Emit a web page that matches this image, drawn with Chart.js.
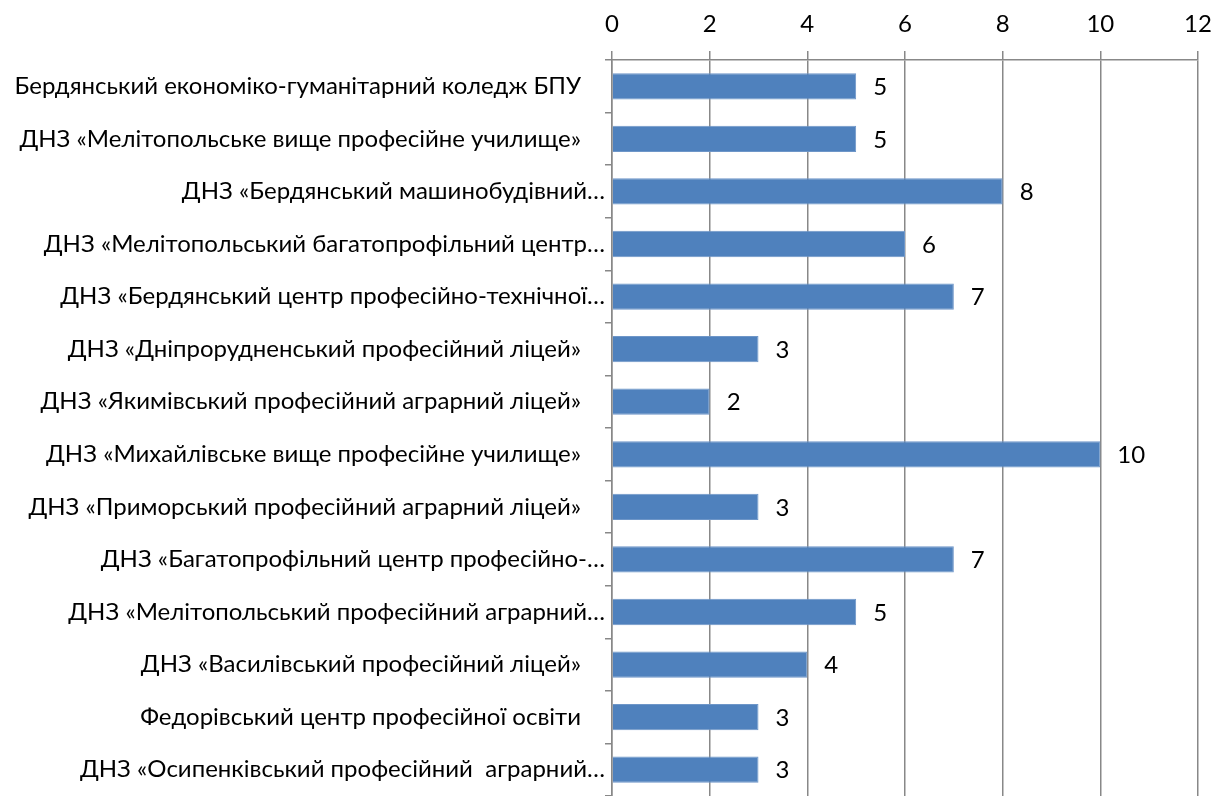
<!DOCTYPE html>
<html>
<head>
<meta charset="utf-8">
<script src="https://cdn.jsdelivr.net/npm/chart.js@4"></script>
<style>
  html, body { margin: 0; padding: 0; background: #fff; }
  #wrap { width: 1220px; height: 796px; }
</style>
</head>
<body>
<div id="wrap"><canvas id="chart"></canvas></div>
<script>
// Назви закладів (підписи категорій)
const schools = [
  'Бердянський економіко-гуманітарний коледж БПУ\u2002\u2002',
  'ДНЗ «Мелітопольське вище професійне училище»\u2002\u2002',
  'ДНЗ «Бердянський машинобудівний…',
  'ДНЗ «Мелітопольський багатопрофільний центр…',
  'ДНЗ «Бердянський центр професійно-технічної…',
  'ДНЗ «Дніпрорудненський професійний ліцей»\u2002\u2002',
  'ДНЗ «Якимівський професійний аграрний ліцей»\u2002\u2002',
  'ДНЗ «Михайлівське вище професійне училище»\u2002\u2002',
  'ДНЗ «Приморський професійний аграрний ліцей»\u2002\u2002',
  'ДНЗ «Багатопрофільний центр професійно-…',
  'ДНЗ «Мелітопольський професійний аграрний…',
  'ДНЗ «Василівський професійний ліцей»\u2002\u2002',
  'Федорівський центр професійної освіти\u2002\u2002',
  'ДНЗ «Осипенківський професійний  аграрний…'
];

// Значення
const counts = [5, 5, 8, 6, 7, 3, 2, 10, 3, 7, 5, 4, 3, 3];

// Шкала
const axisMin = 0;
const axisMax = 12;
const axisStep = 2;

const fontFamily = 'Lato, "Open Sans", sans-serif';
const fontSize = 24;

// Підписи значень біля кінця стовпчика
const valueLabels = {
  id: 'valueLabels',
  afterDatasetsDraw(chart) {
    const ctx = chart.ctx;
    const meta = chart.getDatasetMeta(0);
    ctx.save();
    ctx.font = fontSize + 'px ' + fontFamily;
    ctx.fillStyle = '#000';
    ctx.textAlign = 'left';
    ctx.textBaseline = 'middle';
    meta.data.forEach(function(bar, i) {
      ctx.fillText(String(counts[i]), bar.x + 17, bar.y + 1);
    });
    ctx.restore();
  }
};

const ctx = document.getElementById('chart').getContext('2d');
const chart = new Chart(ctx, {
  type: 'bar',
  data: {
    labels: schools,
    datasets: [{
      data: counts,
      backgroundColor: '#4F81BD',
      borderColor: '#6E96C8',
      borderWidth: 1,
      barPercentage: 0.5,
      categoryPercentage: 1.0
    }]
  },
  options: {
    indexAxis: 'y',
    responsive: true,
    maintainAspectRatio: false,
    animation: false,
    layout: { padding: { left: 0, right: 22, top: 0, bottom: 0 } },
    plugins: {
      legend: { display: false },
      tooltip: { enabled: false }
    },
    scales: {
      x: {
        position: 'top',
        min: axisMin,
        max: axisMax,
        ticks: {
          stepSize: axisStep,
          color: '#000',
          padding: 12,
          font: { family: fontFamily, size: fontSize }
        },
        grid: {
          color: '#888',
          lineWidth: 1.5,
          tickLength: 9,
          drawTicks: true
        },
        border: { color: '#888', width: 1.5 },
        afterFit(scale) {
          scale.height = 60;
          scale.paddingRight = 0;
        }
      },
      y: {
        ticks: {
          color: '#000',
          padding: 0,
          font: { family: fontFamily, size: fontSize }
        },
        grid: {
          drawOnChartArea: false,
          color: '#888',
          lineWidth: 1.5,
          tickLength: 7,
          offset: true
        },
        border: { color: '#888', width: 1.5 },
        afterFit(scale) {
          scale.width = 612;
          scale.paddingTop = 0;
          scale.paddingBottom = 0;
        }
      }
    }
  },
  plugins: [valueLabels]
});
</script>
</body>
</html>
